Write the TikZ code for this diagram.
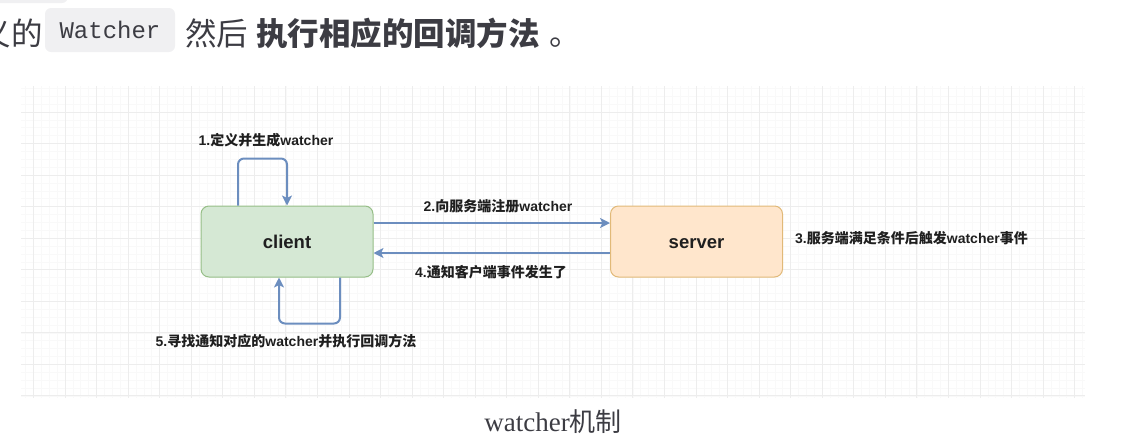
\documentclass[tikz,border=0pt]{standalone}
\usepackage{fontspec}
\usepackage{tikz}
\usetikzlibrary{arrows.meta,positioning,calc}
\setmainfont{Liberation Sans}
\setmonofont{Liberation Mono}
\newfontfamily\cjk{Noto Sans CJK SC}
\newfontfamily\capserif{Liberation Serif}
\definecolor{pageText}{RGB}{60,60,67}
\definecolor{codeBg}{RGB}{240,240,242}
\definecolor{gridMajor}{RGB}{237,237,237}
\definecolor{gridMinor}{RGB}{249,249,249}
\definecolor{clientFill}{RGB}{213,232,212}
\definecolor{clientLine}{RGB}{150,190,135}
\definecolor{serverFill}{RGB}{255,230,204}
\definecolor{serverLine}{RGB}{225,185,120}
\definecolor{flowBlue}{RGB}{108,142,191}
\newcommand{\zh}[1]{{\cjk #1}}

\begin{document}
\begin{tikzpicture}[x=1pt,y=-1pt,
    box/.style={draw,rounded corners=8pt,line width=1pt,minimum width=172pt,minimum height=71pt,text height=13.5pt,text depth=0pt,font=\bfseries\fontsize{18.5}{20}\selectfont,text=black!88},
    lbl/.style={inner sep=0pt,font=\bfseries\fontsize{14}{16}\selectfont,text=black!88},
    pagetext/.style={anchor=base west,inner sep=0pt,text=pageText,font=\cjk\fontsize{31.5}{33}\selectfont},
    arrow/.style={-{Stealth[length=10pt,width=10pt,inset=2.5pt]},line width=2pt,flowBlue,rounded corners=6pt}
  ]
  \useasboundingbox (0,0) rectangle (1126,437);
  % text of the page above the figure
  \fill[codeBg,rounded corners=6pt] (-10,-30) rectangle (68,3);
  \node[pagetext,anchor=base east] (tail) at (43,45) {义的};
  \node[fill=codeBg,rounded corners=6pt,minimum width=130pt,minimum height=44pt,inner sep=0pt,text=pageText,font=\ttfamily\fontsize{24}{26}\selectfont] (code) at (110,30) {Watcher};
  \node[pagetext] (then) at (185,45) {然后};
  \node[pagetext,font=\cjk\bfseries\fontsize{31.5}{33}\selectfont] (todo) at (256,45) {执行相应的回调方法};
  \node[pagetext] (stop) at (549,45) {。};
  % grid
  \foreach \k in {-1,...,133}
    \draw[gridMinor,line width=0.7pt] ({33.5+7.8875*\k},86) -- ({33.5+7.8875*\k},398);
  \foreach \k in {-3,...,36}
    \draw[gridMinor,line width=0.7pt] (21,{112+7.8875*\k}) -- (1085,{112+7.8875*\k});
  \foreach \k in {0,...,33}
    \draw[gridMajor,line width=1pt] ({33.5+31.55*\k},86) -- ({33.5+31.55*\k},398);
  \foreach \k in {0,...,9}
    \draw[gridMajor,line width=1pt] (21,{112+31.55*\k}) -- (1085,{112+31.55*\k});
  % boxes
  \node[box,fill=clientFill,draw=clientLine] (client) at (287,241.5) {client};
  \node[box,fill=serverFill,draw=serverLine] (server) at (696.5,241.5) {server};
  % flow
  \draw[arrow] ([xshift=-49pt]client.north) -- ++(0,-47) -| (client.north);
  \draw[arrow] ([yshift=18.5pt]client.east) -- ([yshift=18.5pt]server.west);
  \draw[arrow] ([yshift=-11.5pt]server.west) -- ([yshift=-11.5pt]client.east);
  \draw[arrow] ([xshift=53pt]client.south) -- ++(0,46) -| ([xshift=-8pt]client.south);
  % step labels
  \node[lbl] (define) at (266,140) {1.\zh{定义并生成}watcher};
  \node[lbl] (register) at (498,206) {2.\zh{向服务端注册}watcher};
  \node[lbl,anchor=west] (trigger) at (795,238) {3.\zh{服务端满足条件后触发}watcher\zh{事件}};
  \node[lbl] (notify) at (491,272) {4.\zh{通知客户端事件发生了}};
  \node[lbl] (callback) at (286,341.5) {5.\zh{寻找通知对应的}watcher\zh{并执行回调方法}};
  % caption
  \node[anchor=base,inner sep=0pt,text=pageText] (caption) at (553,431) {{\capserif\fontsize{27}{30}\selectfont watcher}{\cjk\fontsize{26}{30}\selectfont 机制}};
\end{tikzpicture}
\end{document}
